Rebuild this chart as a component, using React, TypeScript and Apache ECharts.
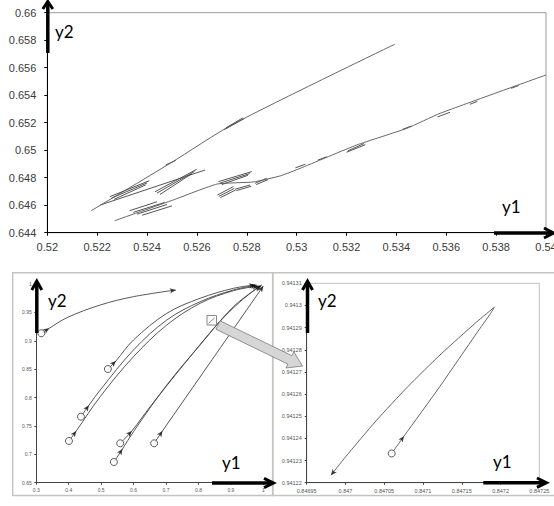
import React, { useEffect, useRef } from "react";
import * as echarts from "echarts";

// ---------- top chart (y1 vs y2, zoomed trajectories) ----------
const topXMin = 0.52, topXMax = 0.54, topXStep = 0.002;
const topYMin = 0.644, topYMax = 0.66, topYStep = 0.002;

const topUpperPath = [
  [0.52176, 0.6456], [0.52493, 0.64905], [0.52746, 0.6519], [0.53394, 0.65771],
];
const topLowerPath = [
  [0.5227, 0.64487], [0.52505, 0.64638], [0.52681, 0.64754], [0.52826, 0.64769],
  [0.52934, 0.64813], [0.53014, 0.64868], [0.53241, 0.65038], [0.53442, 0.65159],
  [0.53575, 0.65268], [0.54, 0.65547],
];
// short oscillation segments [x1, y1, x2, y2]
const topBandSegments = [
  [0.52251, 0.64662, 0.52409, 0.64778],
  [0.52258, 0.64652, 0.524, 0.64762],
  [0.52268, 0.64643, 0.52395, 0.64748],
  [0.52432, 0.64698, 0.52599, 0.64861],
  [0.5244, 0.64688, 0.5259, 0.64845],
  [0.52452, 0.64678, 0.5258, 0.6483],
  [0.52212, 0.64601, 0.52633, 0.64856],
  [0.52475, 0.64893, 0.52515, 0.64925],
  [0.5271, 0.6515, 0.5279, 0.6523],
  [0.52716, 0.65162, 0.52784, 0.65235],
  [0.5233, 0.6456, 0.5244, 0.64625],
  [0.52345, 0.64548, 0.5247, 0.6462],
  [0.5236, 0.64535, 0.5248, 0.64605],
  [0.5238, 0.64527, 0.525, 0.64595],
  [0.52686, 0.64771, 0.5282, 0.64844],
  [0.52692, 0.6476, 0.52812, 0.6483],
  [0.527, 0.6475, 0.52805, 0.64818],
  [0.52682, 0.64674, 0.52746, 0.64735],
  [0.52688, 0.64664, 0.5275, 0.64722],
  [0.52694, 0.64655, 0.52755, 0.6471],
  [0.52753, 0.64716, 0.52813, 0.64747],
  [0.52758, 0.64706, 0.52818, 0.64738],
  [0.52833, 0.64759, 0.5288, 0.64796],
  [0.52838, 0.6475, 0.52885, 0.64786],
  [0.52995, 0.64872, 0.53035, 0.64898],
  [0.53085, 0.64928, 0.5312, 0.64952],
  [0.532, 0.64985, 0.53275, 0.6504],
  [0.53205, 0.64995, 0.5327, 0.65048],
  [0.53425, 0.65152, 0.5346, 0.65176],
  [0.53565, 0.65242, 0.53615, 0.65276],
  [0.53695, 0.65334, 0.53725, 0.65355],
  [0.5386, 0.6545, 0.5389, 0.6547],
];

// ---------- bottom-left chart (full trajectories) ----------
const blXMin = 0.3, blXMax = 1, blXStep = 0.1;
const blYMin = 0.65, blYMax = 1, blYStep = 0.05;

const curveA = [[0.3154, 0.9132], [0.34, 0.922], [0.3945, 0.9407], [0.4971, 0.963], [0.5997, 0.9777], [0.7302, 0.9894]];
const curveB = [[0.5208, 0.8503], [0.5455, 0.8644], [0.5997, 0.9014], [0.7025, 0.9484], [0.8051, 0.9748], [0.9077, 0.9924], [0.9745, 0.9982]];
const curveC = [[0.4377, 0.7663], [0.4623, 0.7864], [0.4971, 0.8133], [0.5997, 0.8838], [0.7025, 0.9366], [0.8051, 0.9688], [0.9077, 0.9894], [0.9797, 0.9982]];
const curveD = [[0.4007, 0.7235], [0.4232, 0.7411], [0.4971, 0.8016], [0.5997, 0.872], [0.7025, 0.9278], [0.8051, 0.966], [0.9077, 0.9882], [0.9847, 0.9965]];
const curveE = [[0.5587, 0.7194], [0.5947, 0.7411], [0.6511, 0.7839], [0.7537, 0.8573], [0.8565, 0.9278], [0.9283, 0.9688], [0.9899, 0.9965]];
const curveF = [[0.5393, 0.6865], [0.5658, 0.7094], [0.5997, 0.7399], [0.7025, 0.8221], [0.8051, 0.8926], [0.9077, 0.96], [0.9951, 0.9982]];
const curveG = [[0.6634, 0.7194], [0.689, 0.7411], [0.8307, 0.8573], [1.0, 0.9965]];
const blCurves = [curveA, curveB, curveC, curveD, curveE, curveF, curveG];

// ---------- bottom-right chart (magnified loop) ----------
const brXMin = 0.84695, brXMax = 0.84725, brXStep = 0.00005;
const brYMin = 0.94122, brYMax = 0.94131, brYStep = 0.00001;
const brLoop = [
  [0.8470596, 0.9412332], [0.8470755, 0.941241], [0.8471219, 0.9412635], [0.8471692, 0.9412875],
  [0.8471864, 0.941296], [0.847192, 0.9412992], [0.8471687, 0.9412924], [0.8471236, 0.9412782],
  [0.8470805, 0.9412634], [0.8470394, 0.9412479], [0.8470002, 0.9412317], [0.8469813, 0.9412234],
];

const LABEL_FONT = "Liberation Sans, Arial, sans-serif";
const TITLE_FONT = "Lato, Open Sans, sans-serif";

function axis(grid: number, min: number, max: number, step: number, lineColor: string, font: number, labelColor: string, margin: number, tick: number) {
  return {
    type: "value" as const,
    gridIndex: grid,
    min, max, interval: step,
    axisLine: { show: true, onZero: false, lineStyle: { color: lineColor, width: 1 } },
    axisTick: { show: true, length: tick, lineStyle: { color: lineColor, width: 1 } },
    splitLine: { show: false },
    axisLabel: {
      fontSize: font, color: labelColor, margin, fontFamily: LABEL_FONT,
      showMinLabel: true, showMaxLabel: true,
    },
  };
}

type Conv = (g: number, p: number[]) => number[];

function arrowItems(g: number, paths: number[][][], conv?: Conv) {
  const items: any[] = [];
  const rot = (a: number[], b: number[]) => {
    if (!conv) return 0;
    const p0 = conv(g, a), p1 = conv(g, b);
    return (Math.atan2(-(p1[1] - p0[1]), p1[0] - p0[0]) * 180) / Math.PI - 90;
  };
  paths.forEach((p) => {
    items.push({ value: p[1], symbolRotate: rot(p[0], p[1]) });
    const n = p.length;
    items.push({ value: p[n - 1], symbolRotate: rot(p[n - 2], p[n - 1]) });
  });
  return items;
}

function makeOption(conv?: Conv) {
  const series: any[] = [];
  const lineBase = { type: "line", symbol: "none", silent: true, animation: false };
  series.push({ ...lineBase, xAxisIndex: 0, yAxisIndex: 0, data: topUpperPath, smooth: 0.25, lineStyle: { color: "#666", width: 1 } });
  series.push({ ...lineBase, xAxisIndex: 0, yAxisIndex: 0, data: topLowerPath, smooth: 0.15, lineStyle: { color: "#666", width: 1 } });
  topBandSegments.forEach((s) => {
    series.push({ ...lineBase, xAxisIndex: 0, yAxisIndex: 0, data: [[s[0], s[1]], [s[2], s[3]]], lineStyle: { color: "#555", width: 1 } });
  });
  blCurves.forEach((c) => {
    series.push({ ...lineBase, xAxisIndex: 1, yAxisIndex: 1, data: c, smooth: 0.35, lineStyle: { color: "#444", width: 0.9 } });
  });
  series.push({
    type: "scatter", xAxisIndex: 1, yAxisIndex: 1, silent: true, z: 5,
    data: blCurves.map((c) => c[0]), symbol: "circle", symbolSize: 7,
    itemStyle: { color: "#fff", borderColor: "#333", borderWidth: 1 },
  });
  series.push({
    type: "scatter", xAxisIndex: 1, yAxisIndex: 1, silent: true, z: 6,
    data: arrowItems(1, blCurves, conv), symbol: "arrow", symbolSize: [4, 6],
    itemStyle: { color: "#111" },
  });
  series.push({ ...lineBase, xAxisIndex: 2, yAxisIndex: 2, data: brLoop, smooth: 0.2, lineStyle: { color: "#555", width: 0.9 } });
  series.push({
    type: "scatter", xAxisIndex: 2, yAxisIndex: 2, silent: true, z: 5,
    data: [brLoop[0]], symbol: "circle", symbolSize: 7,
    itemStyle: { color: "#fff", borderColor: "#333", borderWidth: 1 },
  });
  series.push({
    type: "scatter", xAxisIndex: 2, yAxisIndex: 2, silent: true, z: 6,
    data: arrowItems(2, [brLoop], conv), symbol: "arrow", symbolSize: [4, 6],
    itemStyle: { color: "#111" },
  });

  const thickArrow = (x1: number, y1: number, x2: number, y2: number, head: number[][]) => [
    { type: "line", z: 100, shape: { x1, y1, x2, y2 }, style: { stroke: "#000", lineWidth: 3.5 } },
    { type: "polyline", z: 100, shape: { points: head }, style: { stroke: "#000", lineWidth: 3, fill: "none", lineJoin: "miter" } },
  ];
  const label = (x: number, y: number, t: string) => ({
    type: "text", z: 100, x, y,
    style: { text: t, fontSize: 17, fontFamily: TITLE_FONT, fill: "#000", verticalAlign: "middle", align: "left" },
  });

  const graphics: any[] = [
    { type: "rect", z: 90, shape: { x: 12.7, y: 272.7, width: 260, height: 222.8 }, style: { fill: "none", stroke: "#c4c4c4", lineWidth: 1.5 } },
    { type: "rect", z: 90, shape: { x: 272.7, y: 272.7, width: 300, height: 222.8 }, style: { fill: "none", stroke: "#c4c4c4", lineWidth: 1.5 } },
    ...thickArrow(47.8, 53, 47.8, 2, [[42.8, 9], [47.8, 1.5], [52.8, 9]]),
    ...thickArrow(494, 233, 552, 233, [[544, 228], [553.5, 233], [544, 238]]),
    ...thickArrow(36.8, 333, 36.8, 282, [[31.8, 290], [36.8, 281], [41.8, 290]]),
    ...thickArrow(212, 483, 272, 483, [[264, 478.3], [273.5, 483], [264, 487.7]]),
    ...thickArrow(307.5, 333, 307.5, 282, [[302.5, 290], [307.5, 281], [312.5, 290]]),
    ...thickArrow(483.3, 482.7, 545, 482.7, [[537, 478], [546.5, 482.7], [537, 487.4]]),
    label(55, 31, "y2"),
    label(502, 206, "y1"),
    label(48, 300, "y2"),
    label(222, 462, "y1"),
    label(318, 300, "y2"),
    label(493, 461, "y1"),
    { type: "rect", z: 95, shape: { x: 207, y: 315.5, width: 9.5, height: 9.5 }, style: { fill: "rgba(255,255,255,0.7)", stroke: "#888", lineWidth: 1 } },
    { type: "line", z: 96, shape: { x1: 208.5, y1: 323.5, x2: 214.5, y2: 318 }, style: { stroke: "#666", lineWidth: 0.8 } },
    {
      type: "polygon", z: 97,
      shape: { points: [[215.95, 329.2], [287.85, 364.1], [285.97, 368.0], [302.5, 366], [293.83, 351.8], [291.95, 355.7], [220.05, 320.8]] },
      style: { fill: "#d6d6d6", stroke: "#7a7a7a", lineWidth: 0.8 },
    },
  ];

  return {
    animation: false,
    textStyle: { fontFamily: LABEL_FONT },
    grid: [
      { left: 47.3, top: 12.7, width: 498.7, height: 220, show: true, borderColor: "#9a9a9a", borderWidth: 1, backgroundColor: "transparent", containLabel: false, outerBoundsMode: "none" },
      { left: 36.3, top: 284, width: 227, height: 198.7, containLabel: false, outerBoundsMode: "none" },
      { left: 306.7, top: 283.3, width: 232.6, height: 199.4, show: true, borderColor: "#c0c0c0", borderWidth: 1, backgroundColor: "transparent", containLabel: false, outerBoundsMode: "none" },
    ],
    xAxis: [
      axis(0, topXMin, topXMax, topXStep, "#000", 11, "#3a3a3a", 9, 3),
      axis(1, blXMin, blXMax, blXStep, "#444", 5, "#555", 5, 2),
      axis(2, brXMin, brXMax, brXStep, "#444", 5.5, "#555", 5, 2),
    ],
    yAxis: [
      axis(0, topYMin, topYMax, topYStep, "#000", 11, "#3a3a3a", 11, 3),
      axis(1, blYMin, blYMax, blYStep, "#444", 5, "#555", 4.5, 2),
      axis(2, brYMin, brYMax, brYStep, "#444", 5.5, "#555", 5, 2),
    ],
    series,
    graphic: { elements: graphics },
  };
}

export default function App() {
  const ref = useRef<HTMLDivElement>(null);
  useEffect(() => {
    document.body.style.margin = "0";
    const chart = echarts.init(ref.current!, null, { renderer: "svg" });
    chart.setOption(makeOption() as any);
    const conv: Conv = (g, p) => chart.convertToPixel({ gridIndex: g } as any, p) as number[];
    chart.setOption(makeOption(conv) as any, true);
    return () => chart.dispose();
  }, []);
  return <div ref={ref} style={{ width: 554, height: 506, background: "#fff" }} />;
}
